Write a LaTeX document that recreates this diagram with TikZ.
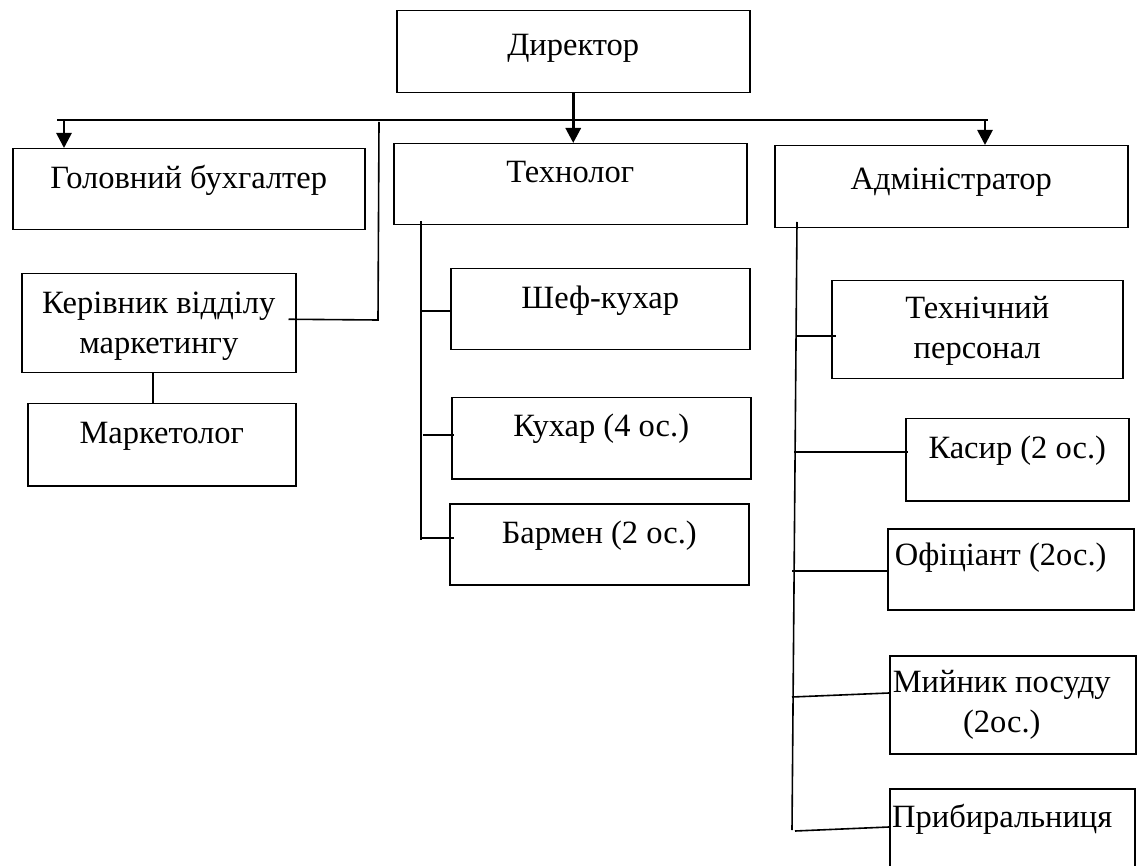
\documentclass[tikz,border=0pt]{standalone}
\usepackage{fontspec}
\setmainfont{Liberation Serif}
\usetikzlibrary{arrows.meta,calc}
% #1 right skip (shifts text left), #2 width, #3 height, #4 top space, #5 text
\newcommand\bxt[5][0pt]{\parbox[c][#3][t]{#2}{\centering\rightskip=#1 plus 1fil\relax\vspace*{#4}#5}}
\begin{document}
\begin{tikzpicture}[x=1pt,y=-1pt,
  bx/.style={draw, line width=1.5pt, inner sep=0pt, anchor=north west,
             font=\fontsize{32.5}{40}\selectfont},
  conn/.style={line width=1.6pt},
  arr/.style={line width=2.7pt, -{Triangle[width=15pt,length=15pt]}},
  arrbig/.style={line width=3pt, -{Triangle[width=15pt,length=15pt]}}]
\useasboundingbox (0,0) rectangle (1138,866);

% boxes
\node[bx] (dir)   at (396,10)  {\bxt{353pt}{82pt}{17pt}{\strut Директор}};
\node[bx] (gol)   at (12,148)  {\bxt{352pt}{81pt}{12pt}{\strut Головний бухгалтер}};
\node[bx] (tech)  at (393,143) {\bxt{353pt}{81pt}{11pt}{\strut Технолог}};
\node[bx] (admin) at (774,145) {\bxt{353pt}{82pt}{16pt}{\strut Адміністратор}};
\node[bx] (ker)   at (21,273)  {\bxt{274pt}{99pt}{12pt}{\strut Керівник відділу\\маркетингу}};
\node[bx] (mark)  at (27,403)  {\bxt{268pt}{82pt}{12pt}{\strut Маркетолог}};
\node[bx] (chef)  at (450,268) {\bxt{299pt}{81pt}{12pt}{\strut Шеф-кухар}};
\node[bx] (cook)  at (451,397) {\bxt{299pt}{81pt}{11pt}{\strut Кухар (4 ос.)}};
\node[bx] (bar)   at (449,503) {\bxt{299pt}{81pt}{12pt}{\strut Бармен (2 ос.)}};
\node[bx] (techp) at (831,280) {\bxt{291pt}{98pt}{10pt}{\strut Технічний\\персонал}};
\node[bx] (kasyr) at (905,418) {\bxt{223pt}{82pt}{12pt}{\strut Касир (2 ос.)}};
\node[bx] (ofic)  at (887,528) {\bxt[20pt]{246pt}{81pt}{9pt}{\strut Офіціант (2ос.)}};
\node[bx] (myin)  at (889,655) {\bxt[22pt]{246pt}{98pt}{9pt}{\strut Мийник посуду\\(2ос.)}};
\node[bx] (prib)  at (889,788) {\bxt[20pt]{245pt}{84pt}{11pt}{\strut Прибиральниця}};

% top bus
\coordinate (busL) at (57,120);
\coordinate (busR) at (988,120);
\draw[conn] (busL) -- (busR);
\coordinate (b1) at (64,120);
\coordinate (b3) at (985,120);
\draw[arr] (b1) -- (b1 |- gol.north);
\draw[arrbig] (dir.south) -- (dir.south |- tech.north);
\draw[arr] (b3) -- (b3 |- admin.north);

% marketing
\coordinate (m1) at (379,122);
\coordinate (m2) at (378,320);
\draw[conn] (m1) -- (m2) -- ([shift={(-8,-4)}]ker.east);
\draw[conn] ([xshift=-6pt]ker.south) -- ([xshift=-6pt]ker.south |- mark.north);

% technolog bus
\coordinate (t1) at (421,221);
\coordinate (t2) at (421,540);
\draw[conn] (t1) -- (t2);
\coordinate (tc) at (421,311);
\coordinate (tk) at (423,435);
\coordinate (tb) at (421,538);
\draw[conn] (tc) -- ([xshift=2pt]tc -| chef.west);
\draw[conn] (tk) -- ([xshift=3pt]tk -| cook.west);
\draw[conn] (tb) -- ([xshift=5pt]tb -| bar.west);

% administrator bus
\coordinate (a1) at (797,222);
\coordinate (a2) at (792,830);
\draw[conn] (a1) -- (a2);
\coordinate (ap) at (797,336);
\coordinate (ak) at (794,452);
\coordinate (ao) at (792,571);
\coordinate (am) at (792,697);
\coordinate (ar) at (795,831);
\draw[conn] (ap) -- ([xshift=5pt]ap -| techp.west);
\draw[conn] (ak) -- ([xshift=3pt]ak -| kasyr.west);
\draw[conn] (ao) -- ([xshift=1pt]ao -| ofic.west);
\draw[conn] (am) -- ([yshift=4pt]am -| myin.west);
\draw[conn] (ar) -- ([yshift=4pt]ar -| prib.west);
\end{tikzpicture}
\end{document}
